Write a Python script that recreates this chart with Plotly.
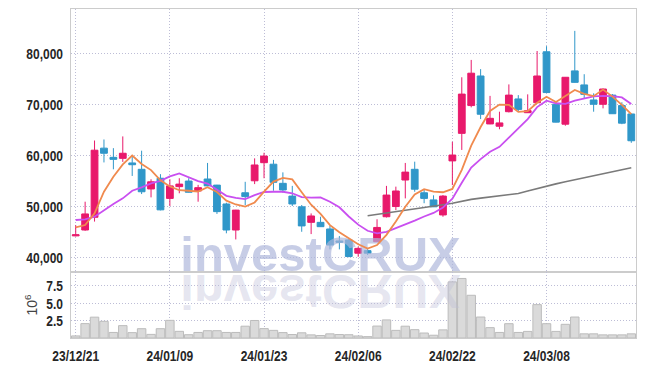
import plotly.graph_objects as go

dates = ["23/12/21", "23/12/22", "23/12/26", "23/12/27", "23/12/28",
         "24/01/02", "24/01/03", "24/01/04", "24/01/05", "24/01/08",
         "24/01/09", "24/01/10", "24/01/11", "24/01/12", "24/01/15",
         "24/01/16", "24/01/17", "24/01/18", "24/01/19", "24/01/22",
         "24/01/23", "24/01/24", "24/01/25", "24/01/26", "24/01/29",
         "24/01/30", "24/01/31", "24/02/01", "24/02/02", "24/02/05",
         "24/02/06", "24/02/07", "24/02/08", "24/02/13", "24/02/14",
         "24/02/15", "24/02/16", "24/02/19", "24/02/20", "24/02/21",
         "24/02/22", "24/02/23", "24/02/26", "24/02/27", "24/02/28",
         "24/02/29", "24/03/04", "24/03/05", "24/03/06", "24/03/07",
         "24/03/08", "24/03/11", "24/03/12", "24/03/13", "24/03/14",
         "24/03/15", "24/03/18", "24/03/19", "24/03/20", "24/03/21"]

open_ = [44200, 45350, 47850, 61400, 59600, 59400, 58500, 57250, 53400, 55500,
         51550, 53850, 54950, 53000, 55350, 54150, 50450, 45350, 52650, 55000,
         58550, 58250, 54500, 52000, 49900, 46850, 46850, 45550, 43200, 43400,
         40800, 41300, 43050, 47950, 49950, 55150, 57250, 52650, 51250, 48300,
         58900, 64300, 69750, 75550, 66150, 65700, 68550, 71050, 68350, 70300,
         80300, 70000, 66100, 76550, 73800, 70850, 70000, 71800, 69750, 68100]
high = [46300, 50900, 62900, 63100, 61400, 63700, 60050, 60900, 55300, 56300,
        55300, 55500, 55500, 54200, 58500, 54200, 50700, 49300, 54800, 59400,
        60500, 59100, 56650, 54000, 50250, 48600, 47950, 46200, 44150, 43600,
        42100, 41750, 47450, 54000, 53850, 58500, 58750, 53200, 52150, 52200,
        62650, 75300, 78700, 76900, 71650, 68550, 73900, 71800, 71950, 80450,
        81400, 70650, 75350, 84400, 75900, 72150, 73100, 72000, 70400, 68200]
low = [44100, 45200, 47000, 58600, 57250, 58700, 55950, 52400, 51750, 49200,
       50050, 52550, 52700, 50900, 53950, 48500, 44700, 43500, 50250, 54350,
       55500, 53050, 52650, 50050, 45000, 44550, 45950, 41550, 41550, 40000,
       40100, 40450, 43000, 47800, 49250, 51550, 52850, 50600, 49850, 47950,
       54150, 61050, 69400, 67100, 66100, 65100, 68400, 68550, 68300, 70250,
       72250, 66450, 65800, 74250, 71050, 68550, 69200, 68100, 66100, 62450]
close = [44400, 48500, 61000, 60400, 59200, 60400, 58150, 52850, 54800, 49300,
         54000, 54350, 52750, 53650, 54000, 48950, 45350, 49250, 51900, 58100,
         59850, 54700, 53200, 50450, 46150, 48100, 46000, 42400, 42950, 40150,
         41750, 40800, 45850, 52200, 53000, 56700, 53350, 51550, 49900, 52000,
         60050, 72000, 76100, 68050, 67250, 66350, 71800, 69000, 68750, 75550,
         72300, 66500, 75300, 74300, 71950, 70000, 73000, 68150, 66300, 62850]

ma_short = [45870, 46330, 48620, 52860, 55800, 58200, 59950, 58300, 57100, 55100,
            53900, 53150, 53050, 52900, 53750, 52800, 51100, 50350, 49950, 50750,
            52880, 54850, 55550, 55280, 52750, 50300, 48500, 46300, 44900, 43800,
            42550, 41700, 42400, 44400, 47000, 49900, 52300, 53350, 52880, 52750,
            53400, 57150, 61900, 65550, 68700, 69950, 69900, 68500, 68650, 70300,
            71480, 70450, 71650, 72800, 72050, 71600, 72900, 71500, 69900, 68080]
ma_mid = [47310, 47440, 47960, 49270, 50450, 51560, 53060, 53720, 54500, 55000,
          55850, 56450, 55650, 54950, 54450, 53300, 52050, 51650, 51400, 52200,
          52800, 52850, 52850, 52550, 51800, 51700, 51750, 50900, 49800, 48000,
          46400, 45200, 44700, 45000, 45700, 46500, 47200, 48000, 48700, 49750,
          51500, 54600, 57600, 59250, 60700, 61650, 63500, 65250, 67100, 69450,
          70700, 70200, 70100, 70700, 71150, 71550, 71650, 71600, 71350, 70050]
ma_long = [None] * 31 + [48150, 48400, 48700, 48950, 49250, 49500, 49750, 50000, 50300,
                         50600, 51000, 51350, 51600, 51800, 52000, 52250, 52500, 53000, 53500,
                         54000, 54400, 54800, 55200, 55600, 56000, 56400, 56800, 57200, 57550]

volume_m = [0.30, 2.07, 3.00, 2.40, 0.80, 1.78, 0.77, 1.34, 0.52, 1.34,
            2.54, 0.96, 0.47, 0.80, 1.05, 1.05, 0.80, 0.80, 1.70, 2.52,
            1.35, 1.10, 0.78, 0.50, 0.75, 0.45, 0.36, 0.60, 0.50, 0.47,
            0.29, 0.20, 1.72, 2.60, 1.10, 1.70, 1.20, 0.72, 0.40, 1.17,
            8.08, 8.57, 6.15, 3.02, 1.49, 0.80, 2.06, 0.80, 0.95, 4.80,
            2.06, 0.95, 1.97, 3.02, 0.60, 0.60, 0.45, 0.45, 0.45, 0.60]

tick_dates = dates[::10]
price_ticks = [40000, 50000, 60000, 70000, 80000]
vol_ticks = [2.5, 5.0, 7.5]
watermark = "investCRUX"

UP = "#e8196b"
DOWN = "#3097c9"
GRID = "#bdbdd6"
GRIDDASH = "1px,2px"
FRAME = "#cccccc"
TICKFONT = dict(family="Liberation Sans, Arial, sans-serif", size=15, weight=700, color="#262626")
WMFONT = "Liberation Sans, Arial, sans-serif"

fig = go.Figure()

# watermark (below the data) and its reflection in the volume panel
fig.add_trace(go.Scatter(x=[dates[26]], y=[39711], mode="text", text=[watermark],
                         textposition="middle center",
                         textfont=dict(family=WMFONT, size=49, weight=700,
                                       color="rgba(172,182,218,0.68)"),
                         xaxis="x", yaxis="y", hoverinfo="skip", showlegend=False))
fig.add_trace(go.Scatter(x=[dates[26]], y=[7.31], mode="text", text=[watermark],
                         textposition="top center",
                         textfont=dict(family=WMFONT, size=49, weight=700,
                                       color="rgba(190,190,215,0.40)"),
                         xaxis="x2", yaxis="y2", hoverinfo="skip", showlegend=False))

fig.add_trace(go.Candlestick(
    x=dates, open=open_, high=high, low=low, close=close,
    increasing=dict(line=dict(color=UP, width=1), fillcolor=UP),
    decreasing=dict(line=dict(color=DOWN, width=1), fillcolor=DOWN),
    whiskerwidth=0, xaxis="x", yaxis="y", showlegend=False, hoverinfo="skip"))

fig.add_trace(go.Scatter(x=dates, y=ma_long, mode="lines", line=dict(color="#7a7a7a", width=1.6),
                         xaxis="x", yaxis="y", showlegend=False, hoverinfo="skip"))
fig.add_trace(go.Scatter(x=dates, y=ma_mid, mode="lines", line=dict(color="#c94ff0", width=1.8),
                         xaxis="x", yaxis="y", showlegend=False, hoverinfo="skip"))
fig.add_trace(go.Scatter(x=dates, y=ma_short, mode="lines", line=dict(color="#f08a4e", width=1.8),
                         xaxis="x", yaxis="y", showlegend=False, hoverinfo="skip"))

fig.add_trace(go.Bar(x=dates, y=volume_m, xaxis="x2", yaxis="y2",
                     marker=dict(color="#dadada", line=dict(color="#bcbcbc", width=1)),
                     showlegend=False, hoverinfo="skip"))

common_x = dict(type="category", categoryorder="array", categoryarray=dates,
                range=[-0.5, len(dates) - 0.5], tickvals=tick_dates,
                showgrid=True, gridcolor=GRID, griddash=GRIDDASH, gridwidth=1,
                showline=True, mirror=True, linecolor=FRAME, linewidth=1,
                zeroline=False, fixedrange=True, automargin=False)

fig.update_layout(
    width=645, height=366,
    margin=dict(l=71, r=9, t=9, b=28, autoexpand=False),
    paper_bgcolor="white", plot_bgcolor="white",
    showlegend=False, hovermode=False,
    boxgap=0.28, boxgroupgap=0, bargap=0.1,
    xaxis=dict(common_x, anchor="y", domain=[0, 1], showticklabels=False,
               rangeslider=dict(visible=False), ticks=""),
    xaxis2=dict(common_x, anchor="y2", domain=[0, 1], matches="x",
                showticklabels=True, ticktext=tick_dates,
                ticks="outside", ticklen=4, tickcolor="rgba(0,0,0,0)",
                tickfont=TICKFONT),
    yaxis=dict(domain=[0.2006, 1], range=[37113, 88687], tickvals=price_ticks,
               tickformat=",", showgrid=True, gridcolor=GRID, griddash=GRIDDASH,
               showline=True, mirror=True, linecolor=FRAME, zeroline=False,
               ticks="outside", ticklen=4, tickcolor="rgba(0,0,0,0)",
               tickfont=TICKFONT, fixedrange=True, automargin=False),
    yaxis2=dict(domain=[0, 0.2006], range=[0, 9.5], tickvals=vol_ticks,
                tickformat=".1f", showgrid=True, gridcolor=GRID, griddash=GRIDDASH,
                showline=True, mirror=True, linecolor=FRAME, zeroline=False,
                ticks="outside", ticklen=4, tickcolor="rgba(0,0,0,0)",
                tickfont=TICKFONT, fixedrange=True, automargin=False,
                title=dict(text="10<sup>6</sup>", standoff=1,
                           font=dict(family="Liberation Sans, Arial, sans-serif",
                                     size=14, color="#444444"))),
)

post = """
document.documentElement.style.margin = '0';
document.documentElement.style.padding = '0';
document.body.style.margin = '0';
document.body.style.padding = '0';
var gd = document.getElementById('{plot_id}');
var sel = gd.querySelectorAll('.subplot.x2y2 g.textpoint text');
for (var i = 0; i < sel.length; i++) {
  var t = sel[i];
  var y = parseFloat(t.getAttribute('y'));
  t.setAttribute('transform', 'translate(0,' + (2 * y) + ') scale(1,-1)');
}
var labs = gd.querySelectorAll('g.xtick text, g.ytick text, g.y2tick text, g.x2tick text');
for (var j = 0; j < labs.length; j++) {
  var l = labs[j];
  var tr = l.getAttribute('transform') || '';
  var x = parseFloat(l.getAttribute('x') || '0');
  l.setAttribute('transform', tr + ' translate(' + x + ',0) scale(0.8,1) translate(' + (-x) + ',0)');
}
"""

fig.write_html("out.html", post_script=post, config={"displayModeBar": False, "staticPlot": True})
